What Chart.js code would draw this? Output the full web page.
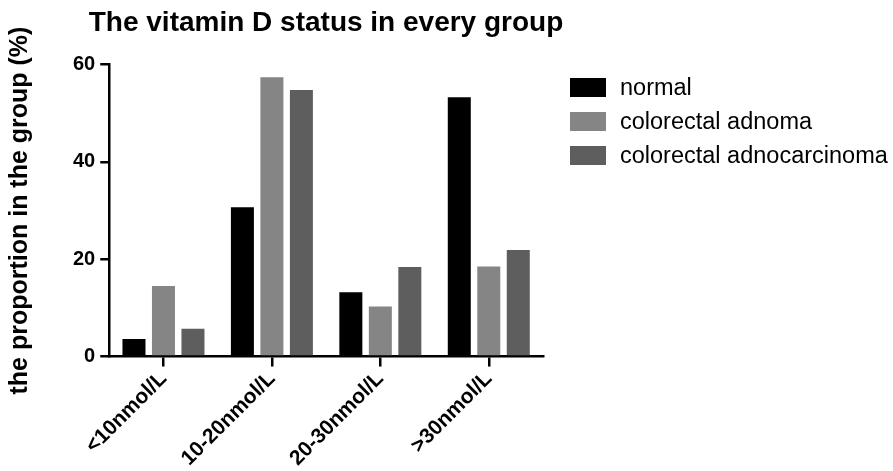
<!DOCTYPE html>
<html>
<head>
<meta charset="utf-8">
<script src="https://cdn.jsdelivr.net/npm/chart.js@4"></script>
<style>
  body { margin: 0; background: #fff; overflow: hidden; }
  #contenedor { position: relative; width: 893px; height: 471px; }
  #leyenda {
    position: absolute; left: 570px; top: 76px;
    font-family: 'Liberation Sans', Arial, Helvetica, sans-serif;
    font-size: 23.5px; color: #000; white-space: nowrap;
  }
  .item { display: flex; align-items: center; height: 23px; margin-bottom: 11px; }
  .caja { width: 36px; height: 19px; margin-right: 14px; }
</style>
</head>
<body>
<div id="contenedor">
  <canvas id="grafico" width="893" height="471"></canvas>
  <div id="leyenda"></div>
</div>
<script>
const categorias = ["<10nmol/L", "10-20nmol/L", "20-30nmol/L", ">30nmol/L"];
const normal = [3.6, 30.7, 13.2, 53.3];
const adnoma = [14.5, 57.4, 10.3, 18.5];
const adnocarcinoma = [5.7, 54.8, 18.4, 21.9];
const ticksY = [0, 20, 40, 60];

Chart.defaults.font.family = "'Liberation Sans', Arial, Helvetica, sans-serif";
Chart.defaults.color = "#000";

const ejeNegro = {
    display: true,
    drawOnChartArea: false,
    drawTicks: true,
    color: "#000",
    lineWidth: 2.5
};

const grafico = new Chart(document.getElementById("grafico"), {
    type: "bar",
    data: {
        labels: categorias,
        datasets: [
            { label: "normal", data: normal, backgroundColor: "#000000", borderWidth: 0 },
            { label: "colorectal adnoma", data: adnoma, backgroundColor: "#858585", borderWidth: 0 },
            { label: "colorectal adnocarcinoma", data: adnocarcinoma, backgroundColor: "#5e5e5e", borderWidth: 0 }
        ]
    },
    options: {
        responsive: false,
        animation: false,
        categoryPercentage: 0.816,
        barPercentage: 0.78,
        // hueco a la derecha para la leyenda html
        layout: { padding: { right: 241 } },
        scales: {
            x: {
                grid: { ...ejeNegro, tickLength: 10, offset: false },
                border: { display: true, color: "#000", width: 2.5 },
                ticks: {
                    minRotation: 45,
                    maxRotation: 45,
                    padding: 0,
                    color: "#000",
                    font: { size: 21, weight: "bold" }
                }
            },
            y: {
                min: 0,
                max: 60,
                afterBuildTicks: (scale) => { scale.ticks = ticksY.map(v => ({ value: v })); },
                grid: { ...ejeNegro, tickLength: 9 },
                border: { display: true, color: "#000", width: 2.5 },
                ticks: {
                    padding: 5,
                    color: "#000",
                    font: { size: 20, weight: "bold" }
                },
                title: {
                    display: true,
                    text: "the proportion in the group (%)",
                    color: "#000",
                    font: { size: 25, weight: "bold" },
                    padding: { top: 5, bottom: 33 }
                }
            },
            // eje vacio: separa el grafico de la leyenda y deja el titulo centrado
            yHueco: {
                axis: "y",
                type: "linear",
                position: "right",
                display: true,
                grid: { display: false },
                border: { display: false },
                ticks: { display: false },
                afterFit: (scale) => { scale.width = 109; }
            }
        },
        plugins: {
            title: {
                display: true,
                text: "The vitamin D status in every group",
                color: "#000",
                font: { size: 28, weight: "bold" },
                padding: { top: 6, bottom: 25 }
            },
            legend: { display: false },
            tooltip: { enabled: false }
        }
    }
});

// Leyenda en html a partir de los items de Chart.js
const leyenda = document.getElementById("leyenda");
const items = Chart.defaults.plugins.legend.labels.generateLabels(grafico);
items.forEach(item => {
    const fila = document.createElement("div");
    fila.className = "item";
    const caja = document.createElement("span");
    caja.className = "caja";
    caja.style.background = item.fillStyle;
    const texto = document.createElement("span");
    texto.textContent = item.text;
    fila.appendChild(caja);
    fila.appendChild(texto);
    leyenda.appendChild(fila);
});
</script>
</body>
</html>
